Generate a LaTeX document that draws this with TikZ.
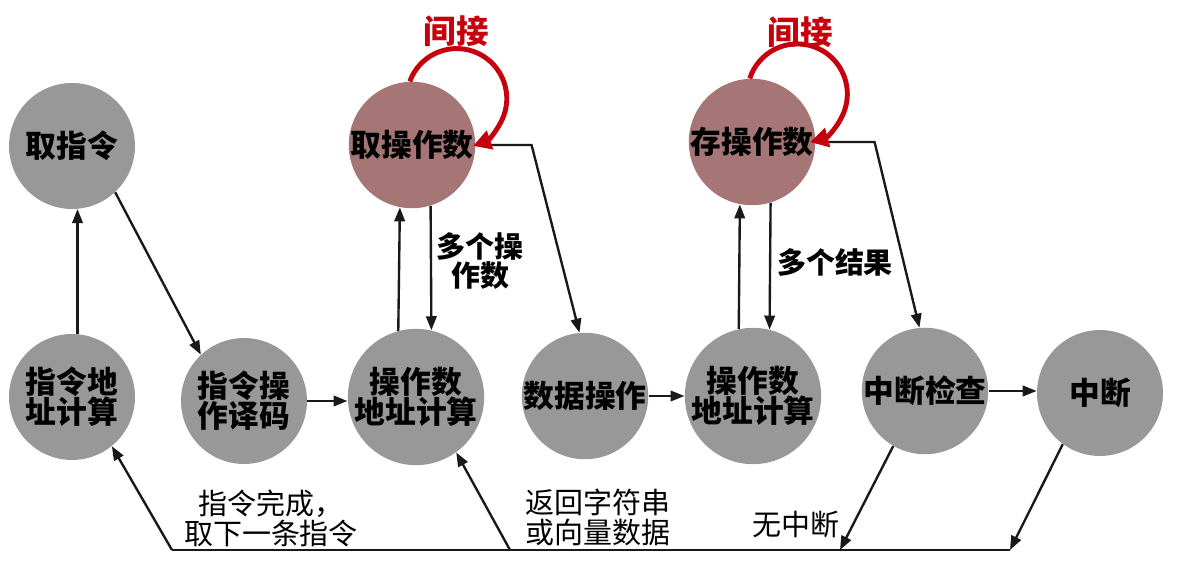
\documentclass[tikz,border=0pt]{standalone}
\usepackage{fontspec}
\newfontfamily\cjk{Noto Sans CJK SC}
\usetikzlibrary{arrows.meta}
\definecolor{nodegray}{RGB}{152,152,152}
\definecolor{noderose}{RGB}{166,118,118}
\definecolor{loopred}{RGB}{198,0,12}
\begin{document}
\begin{tikzpicture}[x=0.02cm,y=-0.02cm,
  stage/.style={circle, fill=nodegray, minimum size=2.52cm, inner sep=0pt,
    align=center, font=\cjk\bfseries\fontsize{17.5}{17}\selectfont},
  memstage/.style={stage, fill=noderose},
  flow/.style={draw=black!90, line width=1.35pt,
    -{Triangle[length=0.28cm,width=0.21cm]}},
  rail/.style={draw=black!90, line width=1.35pt},
  indirect/.style={draw=loopred, line width=2.8pt,
    -{Triangle[length=0.36cm,width=0.38cm]}},
  note/.style={align=center, font=\cjk\fontsize{16.5}{17}\selectfont},
  boldnote/.style={note, font=\cjk\bfseries\fontsize{16.5}{17}\selectfont},
  tagtext/.style={text=loopred, font=\cjk\bfseries\fontsize{18.5}{20}\selectfont}]
\useasboundingbox (0,0) rectangle (1201,580);
\fill[white] (0,0) rectangle (1201,580);

% pipeline stages
\node[stage]    (fetch) at (72,146)   {取指令};
\node[stage]    (iac)   at (72,397)   {指令地\\址计算};
\node[stage]    (iod)   at (244,401)  {指令操\\作译码};
\node[stage]    (oac1)  at (416,397)  {操作数\\地址计算};
\node[memstage] (fop)   at (412,145)  {取操作数};
\node[stage]    (dop)   at (585,396)  {数据操作};
\node[stage]    (oac2)  at (753,396)  {操作数\\地址计算};
\node[memstage] (sop)   at (752,142)  {存操作数};
\node[stage]    (ichk)  at (925,391)  {中断检查};
\node[stage]    (intr)  at (1100,393) {中断};

% points on the return rail
\coordinate (b0) at (172,550);
\coordinate (b1) at (510,550);
\coordinate (b2) at (840,550);
\coordinate (b3) at (1010,550);

% forward flow
\draw[flow] (iac.85) -- (fetch.275);
\draw[flow] (fetch.-47) -- (iod.133);
\draw[flow] (iod.east) -- (iod.east -| oac1.west);
\draw[flow] (oac1.105) -- (fop.259);
\draw[flow] (fop.287) -- (oac1.77);
\draw[flow] (fop.east) -- ++(56,0) -- (dop.95);
\draw[flow] (dop.east) -- (dop.east -| oac2.west);
\draw[flow] (oac2.102) -- (sop.259);
\draw[flow] (sop.287) -- (oac2.76);
\draw[flow] (sop.east) -- ++(59,0) -- (ichk.95);
\draw[flow] (ichk.east) -- (ichk.east -| intr.west);

% return paths
\draw[flow] (ichk.240) -- (b2);
\draw[flow] (intr.234) -- (b3);
\draw[rail] (b3) -- (b0);
\draw[flow] (b0) -- (iac.-51);
\draw[flow] (b1) -- (oac1.-54);

% indirect addressing loops
\draw[indirect] (fop.92) arc[start angle=200, end angle=431, radius=50];
\draw[indirect] (sop.92) arc[start angle=198, end angle=435, radius=50];
\node[tagtext] (ind1) at (456,31) {间接};
\node[tagtext] (ind2) at (800,32) {间接};

% edge labels
\node[boldnote] (many1) at (480,261) {多个操\\作数};
\node[boldnote] (many2) at (835,262) {多个结果};
\node[note] (done)  at (271,518) {指令完成，\\取下一条指令};
\node[note] (vec)   at (598,517) {返回字符串\\或向量数据};
\node[note] (noint) at (796,525) {无中断};
\end{tikzpicture}
\end{document}
